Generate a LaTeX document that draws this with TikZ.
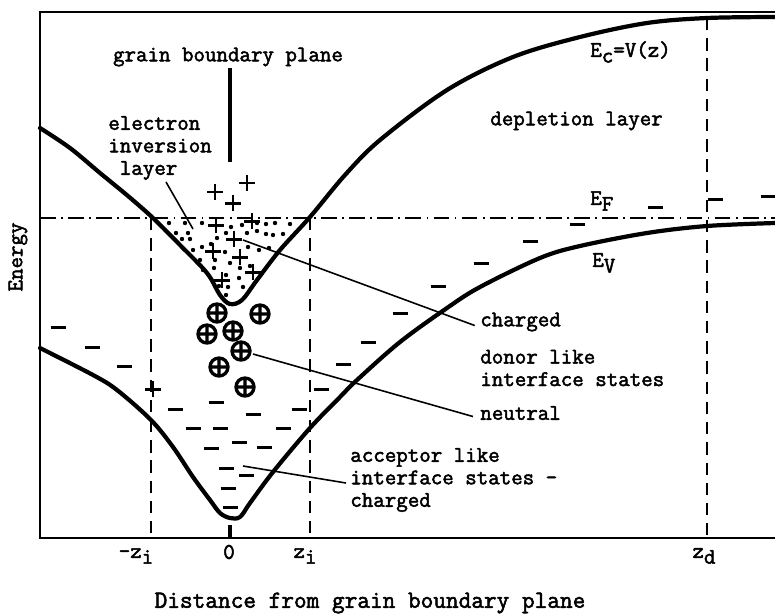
\documentclass[tikz,border=0pt]{standalone}
\usepackage{fontspec}
\setmonofont{Latin Modern Mono}[AutoFakeBold=2.2]
\usetikzlibrary{positioning}
\newcommand{\lowsub}[1]{\raisebox{-0.6ex}{#1}}

\begin{document}
\begin{tikzpicture}[x=0.02cm,y=-0.02cm,
    band/.style={line width=2.4pt,line cap=round,line join=round},
    frameline/.style={line width=1.1pt},
    guide/.style={line width=0.9pt,dash pattern=on 7pt off 4.5pt},
    fermi/.style={line width=0.8pt,dash pattern=on 9pt off 3pt on 1pt off 3pt},
    pointer/.style={line width=0.9pt},
    charge/.style={line width=1.7pt},
    lbl/.style={font=\ttfamily\bfseries\fontsize{12.7}{12.8}\selectfont,inner sep=0pt,align=left}]
  \useasboundingbox (0,0) rectangle (775,613);
  % axes
  \coordinate (otop) at (40,12);
  \coordinate (orig) at (40,538);
  \draw[frameline] (775,12) -- (otop) -- (orig) -- (775,538);
  % Fermi level and guide lines
  \draw[fermi] (40,218) -- (775,218);
  \draw[guide] (151,218) -- (151,538);
  \draw[guide] (310,218) -- (310,538);
  \draw[guide] (707,18) -- (707,538);
  \draw[line width=2pt] (230,525) -- (230,538);
  % electron inversion layer
  \foreach \x/\y in {169/223,185/223,202/223,231/227,242/225,257/223,266/224,275/223,290/224,
      176/233,188/233,190/239,182/239,217/238,226/233,247/233,257/231,266/234,273/235,283/234,
      193/250,202/247,211/244,225/252,248/247,259/250,269/248,200/260,215/260,230/263,250/266,
      203/270,214/268,240/268,226/275,239/278,219/286,228/287,243/287,226/295}
    \fill (\x,\y) circle (2.2);
  % bands
  \draw[band] plot[smooth,tension=0.55] coordinates {(40,128) (70,148) (100,173) (128,196)
      (153,218) (180,245) (207,273) (220,295) (230,304) (242,300) (257,280) (280,250)
      (310,217) (345,175) (380,140) (447,90) (513,57) (580,37) (647,23) (707,18) (775,17)};
  \draw[band] plot[smooth,tension=0.55] coordinates {(40,348) (93,375) (117,390) (151,420)
      (173,447) (193,477) (210,500) (220,513) (230,518) (240,517) (250,503) (273,472)
      (310,428) (340,397) (357,380) (400,342) (447,308) (480,287) (540,258) (580,246)
      (647,233) (707,226) (775,223)};
  % charges
  \foreach \x/\y in {215/192,233/203,247/183,216/225,252/221,234/239,213/251,240/257,
      253/272,222/280,153/389}
    \draw[charge] (\x-8,\y) -- (\x+8,\y) (\x,\y-8) -- (\x,\y+8);
  \foreach \x/\y in {217/313,260/314,207/334,233/331,241/351,219/367,245/387}
    \draw[charge,line width=1.9pt] (\x,\y) circle (9) (\x-9,\y) -- (\x+9,\y) (\x,\y-9) -- (\x,\y+9);
  \foreach \x/\y in {58/327,92/347,124/366,216/402,175/409,299/409,253/414,193/428,
      220/428,283/428,239/442,211/448,264/447,226/468,246/475,228/488,230/507,
      321/389,343/364,368/342,400/313,438/286,481/263,530/241,577/224,655/207,715/199,768/196}
    \draw[charge] (\x-7.5,\y) -- (\x+7.5,\y);
  % labels
  \node[lbl] (gbp) at (228,57) {grain boundary plane};
  \draw[line width=2pt] (230,68) -- (230,162);
  \node[lbl,anchor=west] (einv) at (108,148) {electron\\inversion\\~layer};
  \node[lbl,anchor=west] (ec) at (590,52) {E\lowsub{c}=V(z)};
  \node[lbl,anchor=west] (depl) at (490,121) {depletion layer};
  \node[lbl,anchor=west] (ef) at (590,201) {E\lowsub{F}};
  \node[lbl,anchor=west] (ev) at (592,263) {E\lowsub{V}};
  \node[lbl,anchor=west] (chg) at (480,322) {charged};
  \node[lbl,anchor=west] (donor) at (480,368) {donor like\\interface states};
  \node[lbl,anchor=west] (neut) at (480,413) {neutral};
  \node[lbl,anchor=west] (accp) at (350,480) {acceptor like\\interface states -\\charged};
  \node[lbl,rotate=90] (energy) at (18,257) {Energy};
  \node[lbl] (tmzi) at (136,556) {-z\lowsub{i}};
  \node[lbl] (tzero) at (229,552) {0};
  \node[lbl] (tzi) at (305,556) {z\lowsub{i}};
  \node[lbl] (tzd) at (704,556) {z\lowsub{d}};
  \node[lbl,font=\ttfamily\bfseries\fontsize{14}{15}\selectfont] (dist) at (370,603)
    {Distance from grain boundary plane};
  % pointers
  \coordinate (einvtip) at (166,182);
  \coordinate (einvend) at (193,229);
  \coordinate (chgtip) at (243,240);
  \coordinate (neuttip) at (253,354);
  \coordinate (accptip) at (243,466);
  \coordinate (accpend) at (346,483);
  \draw[pointer] (einvtip) -- (einvend);
  \draw[pointer] (chgtip) -- ([xshift=-3pt,yshift=-2pt]chg.west);
  \draw[pointer] (neuttip) -- ([xshift=-4pt,yshift=-2pt]neut.west);
  \draw[pointer] (accptip) -- (accpend);
\end{tikzpicture}
\end{document}
